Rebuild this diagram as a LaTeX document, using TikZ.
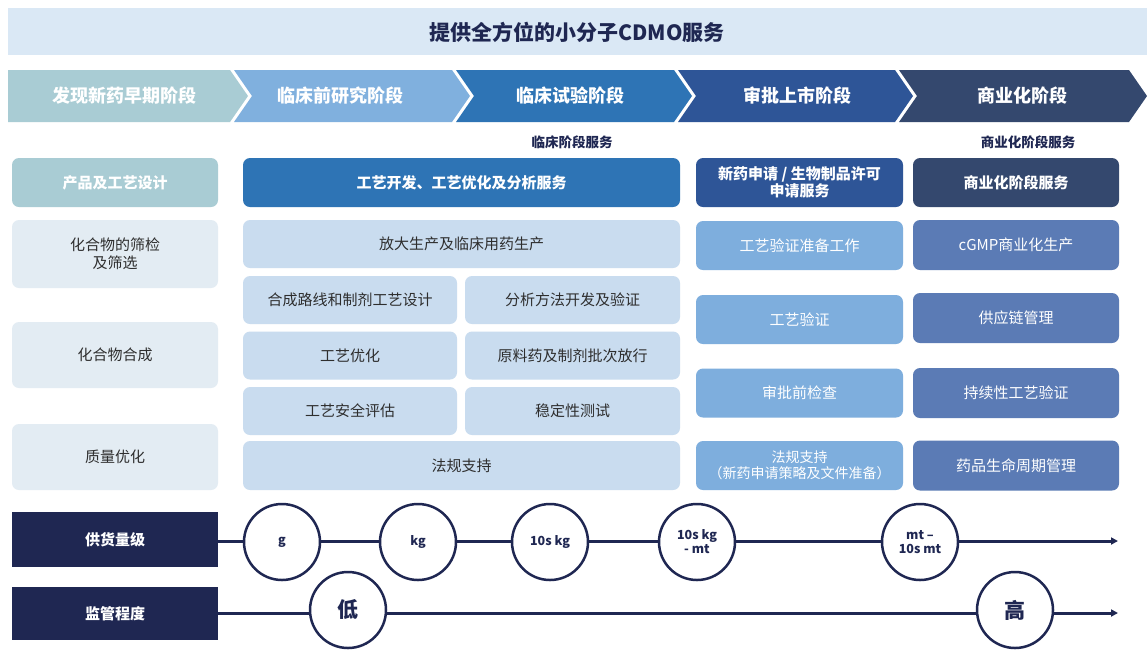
\documentclass[tikz,border=0pt]{standalone}
\usepackage{fontspec}
\setmainfont{Noto Sans CJK SC}
\usetikzlibrary{arrows.meta}
\definecolor{band}{HTML}{DAE8F5}
\definecolor{cA}{HTML}{A9CCD4}
\definecolor{cB}{HTML}{80B0DE}
\definecolor{cC}{HTML}{2E74B5}
\definecolor{cD}{HTML}{2E5597}
\definecolor{cE}{HTML}{34486E}
\definecolor{leftbox}{HTML}{E3ECF3}
\definecolor{midbox}{HTML}{C9DCEF}
\definecolor{dbox}{HTML}{7EAEDD}
\definecolor{ebox}{HTML}{5B7BB5}
\definecolor{navy}{HTML}{1F2752}
\definecolor{txt}{HTML}{2E2E2E}
\tikzset{
  box/.style={rectangle, rounded corners=7pt, inner sep=2pt, align=center, font=\fontsize{15}{17}\selectfont},
  hdr/.style={box, text=white, font=\bfseries\fontsize{15}{18}\selectfont},
  lbox/.style={box, fill=leftbox, text=txt, minimum width=206pt},
  mbox/.style={box, fill=midbox, text=txt},
  dcell/.style={box, fill=dbox, text=white, minimum width=207pt, minimum height=49pt},
  ecell/.style={box, fill=ebox, text=white, minimum width=206pt, minimum height=50pt},
  chevtext/.style={text=white, font=\bfseries\fontsize{18}{21}\selectfont},
  navybox/.style={rectangle, fill=navy, text=white, font=\bfseries\fontsize{15}{18}\selectfont, minimum width=206pt},
  ring/.style={circle, draw=navy, line width=2.5pt, fill=white, minimum size=76pt, inner sep=0pt, align=center, text=navy, font=\bfseries\fontsize{12.5}{14}\selectfont},
  axis/.style={draw=navy, line width=3pt},
  lbl/.style={text=navy, font=\bfseries\fontsize{13.5}{15}\selectfont}
}
\begin{document}
\begin{tikzpicture}[x=1pt,y=-1pt]
\useasboundingbox (0,0) rectangle (1147,649);
\fill[white] (0,0) rectangle (1147,649);
% title band
\fill[band] (8,8) rectangle (1147,55);
\node[text=navy, font=\bfseries\fontsize{21}{25}\selectfont] (title) at (577,32) {提供全方位的小分子CDMO服务};
% chevrons
\fill[cA] (8,70) -- (230,70) -- (248,96) -- (230,122) -- (8,122) -- cycle;
\fill[cB] (234,70) -- (452,70) -- (470,96) -- (452,122) -- (234,122) -- (252,96) -- cycle;
\fill[cC] (456,70) -- (674,70) -- (692,96) -- (674,122) -- (456,122) -- (474,96) -- cycle;
\fill[cD] (678,70) -- (895,70) -- (913,96) -- (895,122) -- (678,122) -- (696,96) -- cycle;
\fill[cE] (899,70) -- (1129,70) -- (1147,96) -- (1129,122) -- (899,122) -- (917,96) -- cycle;
\node[chevtext] (p1) at (124,96) {发现新药早期阶段};
\node[chevtext] (p2) at (340,96) {临床前研究阶段};
\node[chevtext] (p3) at (570,96) {临床试验阶段};
\node[chevtext] (p4) at (797,96) {审批上市阶段};
\node[chevtext] (p5) at (1022,96) {商业化阶段};
% stage labels
\node[lbl] (l1) at (572,142) {临床阶段服务};
\node[lbl] (l2) at (1028,142) {商业化阶段服务};
% headers
\node[hdr, fill=cA, minimum width=206pt, minimum height=49pt] (h1) at (115,182.5) {产品及工艺设计};
\node[hdr, fill=cC, minimum width=437pt, minimum height=49pt] (h2) at (461.5,182.5) {工艺开发、工艺优化及分析服务};
\node[hdr, fill=cD, minimum width=207pt, minimum height=49pt, font=\bfseries\fontsize{15}{17}\selectfont] (h3) at (799.5,182.5) {新药申请 / 生物制品许可\\申请服务};
\node[hdr, fill=cE, minimum width=206pt, minimum height=49pt] (h4) at (1016,182.5) {商业化阶段服务};
% left column
\node[lbox, minimum height=68pt, font=\fontsize{15}{18}\selectfont] (a1) at (115,254) {化合物的筛检\\及筛选};
\node[lbox, minimum height=66pt] (a2) at (115,355) {化合物合成};
\node[lbox, minimum height=66pt] (a3) at (115,457) {质量优化};
% middle
\node[mbox, minimum width=437pt, minimum height=48pt] (b1) at (461.5,244) {放大生产及临床用药生产};
\node[mbox, minimum width=214pt, minimum height=48pt] (b2) at (350,300) {合成路线和制剂工艺设计};
\node[mbox, minimum width=215pt, minimum height=48pt] (b3) at (572.5,300) {分析方法开发及验证};
\node[mbox, minimum width=214pt, minimum height=48pt] (b4) at (350,355.5) {工艺优化};
\node[mbox, minimum width=215pt, minimum height=48pt] (b5) at (572.5,355.5) {原料药及制剂批次放行};
\node[mbox, minimum width=214pt, minimum height=48pt] (b6) at (350,411) {工艺安全评估};
\node[mbox, minimum width=215pt, minimum height=48pt] (b7) at (572.5,411) {稳定性测试};
\node[mbox, minimum width=437pt, minimum height=49pt] (b8) at (461.5,465.5) {法规支持};
% column 4
\node[dcell] (d1) at (799.5,245.5) {工艺验证准备工作};
\node[dcell] (d2) at (799.5,319.5) {工艺验证};
\node[dcell] (d3) at (799.5,393) {审批前检查};
\node[dcell, font=\fontsize{14}{16}\selectfont] (d4) at (799.5,465.5) {法规支持\\（新药申请策略及文件准备）};
% column 5
\node[ecell] (e1) at (1016,245) {cGMP商业化生产};
\node[ecell] (e2) at (1016,318) {供应链管理};
\node[ecell] (e3) at (1016,393) {持续性工艺验证};
\node[ecell] (e4) at (1016,465.5) {药品生命周期管理};
% supply row
\node[navybox, minimum height=55pt] (s) at (115,539.5) {供货量级};
\node[ring] (g1) at (282,542) {g};
\node[ring] (g2) at (418,542) {kg};
\node[ring] (g3) at (550,542) {10s kg};
\node[ring] (g4) at (697,542) {10s kg\\- mt};
\node[ring] (g5) at (920,542) {mt –\\10s mt};
\coordinate (send) at (1118,541);
\draw[axis] (s.east |- 0,541) -- (g1.west |- 0,541);
\draw[axis] (g1.east |- 0,541) -- (g2.west |- 0,541);
\draw[axis] (g2.east |- 0,541) -- (g3.west |- 0,541);
\draw[axis] (g3.east |- 0,541) -- (g4.west |- 0,541);
\draw[axis] (g4.east |- 0,541) -- (g5.west |- 0,541);
\draw[axis, -{Triangle[length=7pt,width=7pt]}] (g5.east |- 0,541) -- (send);
% regulation row
\node[navybox, minimum height=53pt] (r) at (115,613.5) {监管程度};
\node[ring, font=\bfseries\fontsize{21}{24}\selectfont] (lo) at (348,610) {低};
\node[ring, font=\bfseries\fontsize{21}{24}\selectfont] (hi) at (1015,610) {高};
\coordinate (rend) at (1118,613);
\draw[axis] (r.east |- 0,613) -- (lo.west |- 0,613);
\draw[axis] (lo.east |- 0,613) -- (hi.west |- 0,613);
\draw[axis, -{Triangle[length=7pt,width=7pt]}] (hi.east |- 0,613) -- (rend);
\end{tikzpicture}
\end{document}
